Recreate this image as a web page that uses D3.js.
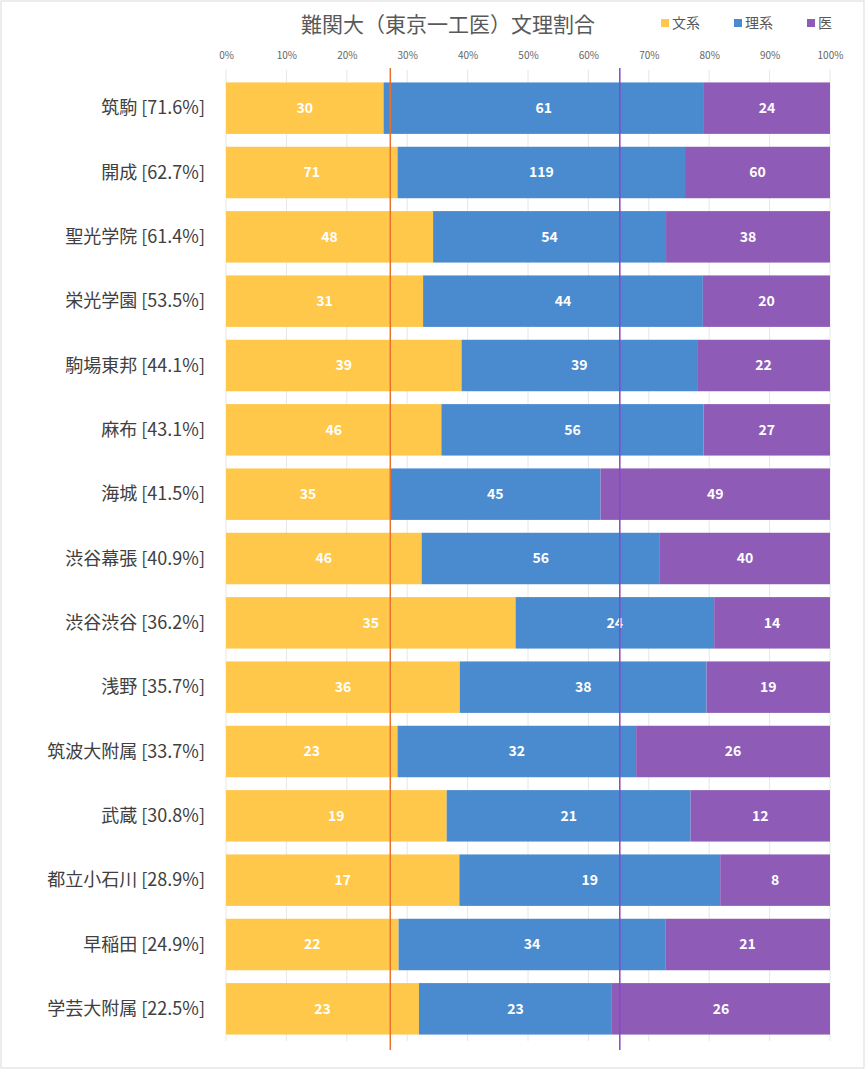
<!DOCTYPE html>
<html><head><meta charset="utf-8">
<script src="https://cdn.jsdelivr.net/npm/d3@7"></script>
<style>body{margin:0;background:#fff;font-family:"Noto Sans CJK JP","Noto Sans",sans-serif}</style>
</head><body>
<script>
const schools=["筑駒 [71.6%]","開成 [62.7%]","聖光学院 [61.4%]","栄光学園 [53.5%]","駒場東邦 [44.1%]","麻布 [43.1%]","海城 [41.5%]","渋谷幕張 [40.9%]","渋谷渋谷 [36.2%]","浅野 [35.7%]","筑波大附属 [33.7%]","武蔵 [30.8%]","都立小石川 [28.9%]","早稲田 [24.9%]","学芸大附属 [22.5%]"];
const bunkei=[30,71,48,31,39,46,35,46,35,36,23,19,17,22,23];
const rikei=[61,119,54,44,39,56,45,56,24,38,32,21,19,34,23];
const igaku=[24,60,38,20,22,27,49,40,14,19,26,12,8,21,26];
const seriesNames=["文系","理系","医"];
const colors=["#ffc84a","#4a8bcf","#8e5cb7"];
const refLines=[{v:0.272,c:"#e8722c"},{v:0.652,c:"#8a45c9"}];
const ticks=[0,0.1,0.2,0.3,0.4,0.5,0.6,0.7,0.8,0.9,1];

const W=866,H=1070;
const svg=d3.select("body").append("svg").attr("width",W).attr("height",H);
svg.append("rect").attr("x",1).attr("y",1).attr("width",W-3).attr("height",H-3).attr("fill","#fff").attr("stroke","#d9d9d9");
const x=d3.scaleLinear().domain([0,1]).range([226,830]);
const y=d3.scaleBand().domain(schools).range([76,1041]).paddingInner(0.2).paddingOuter(0.1);

// gridlines
svg.selectAll(".g").data(ticks).join("line").attr("x1",d=>x(d)).attr("x2",d=>x(d)).attr("y1",70).attr("y2",1041).attr("stroke","#e6e6e6");
const ax=svg.append("g").attr("transform","translate(0,62)").call(d3.axisTop(x).tickValues(ticks).tickFormat(d3.format(".0%")).tickSize(0));
ax.select(".domain").remove();
ax.selectAll("text").attr("fill","#666").attr("font-size",10).attr("font-family","Noto Sans CJK JP");

const rows=schools.map((s,i)=>{const vals=[bunkei[i],rikei[i],igaku[i]];const t=d3.sum(vals);let c=0;return vals.map((v,k)=>{const r={s,k,v,x0:c/t,x1:(c+v)/t};c+=v;return r;});}).flat();
svg.selectAll(".bar").data(rows).join("rect").attr("x",d=>x(d.x0)).attr("width",d=>x(d.x1)-x(d.x0)).attr("y",d=>y(d.s)).attr("height",y.bandwidth()).attr("fill",d=>colors[d.k]);
svg.selectAll(".lbl").data(rows).join("text").attr("x",d=>(x(d.x0)+x(d.x1))/2).attr("y",d=>y(d.s)+y.bandwidth()/2).attr("dy","0.35em").attr("text-anchor","middle").attr("fill","#fff").attr("font-weight","bold").attr("font-size",14).text(d=>d.v);

svg.selectAll(".cat").data(schools).join("text").attr("x",205).attr("y",d=>y(d)+y.bandwidth()/2).attr("dy","0.35em").attr("text-anchor","end").attr("font-size",18).attr("fill","#404040").text(d=>d);

svg.selectAll(".ref").data(refLines).join("line").attr("x1",d=>x(d.v)).attr("x2",d=>x(d.v)).attr("y1",68).attr("y2",1050).attr("stroke",d=>d.c).attr("stroke-width",1.5);

svg.append("text").attr("x",448).attr("y",32).attr("text-anchor","middle").attr("font-size",21).attr("fill","#595959").text("難関大（東京一工医）文理割合");
const lg=svg.selectAll(".lg").data(seriesNames).join("g").attr("transform",(d,i)=>`translate(${661+i*73},23)`);
lg.append("rect").attr("width",8).attr("height",8).attr("y",-4).attr("fill",(d,i)=>colors[i]);
lg.append("text").attr("x",11).attr("dy","0.35em").attr("font-size",14).attr("fill","#595959").text(d=>d);
</script>
</body></html>
